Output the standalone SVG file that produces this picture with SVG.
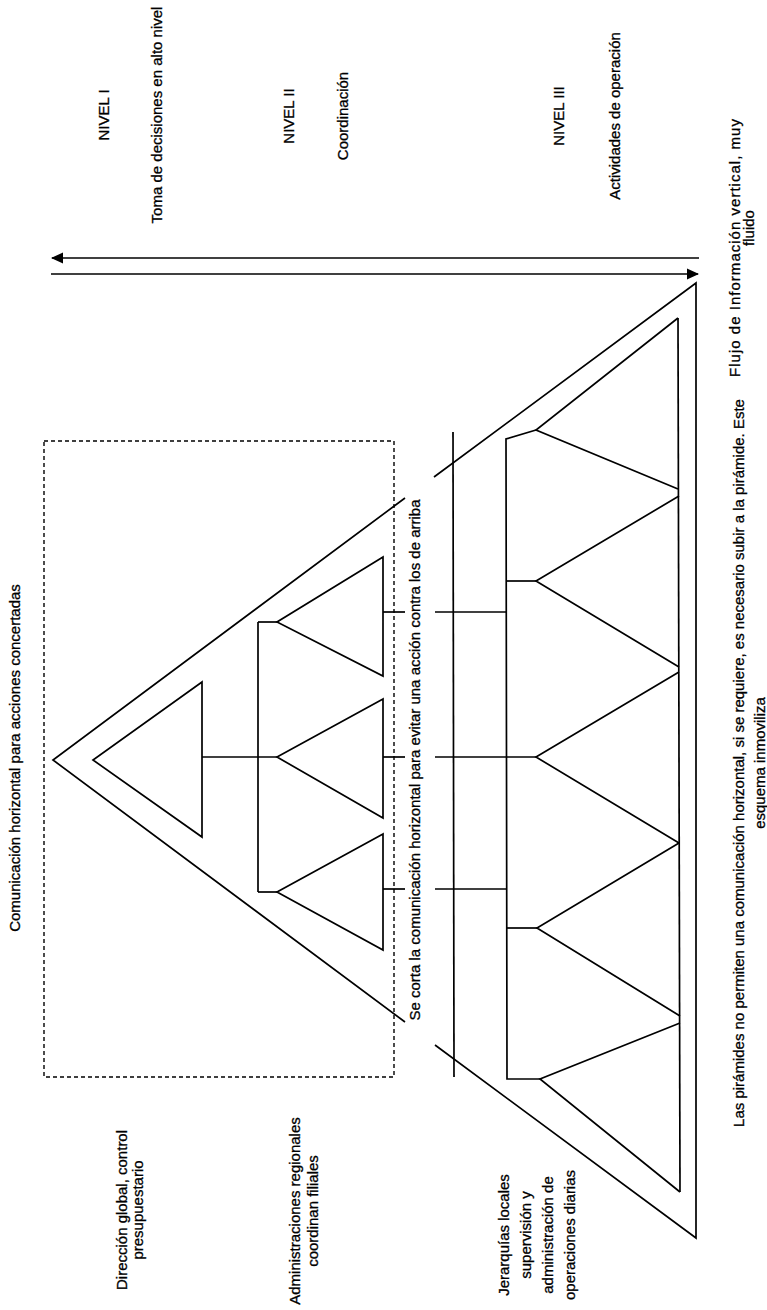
<svg xmlns="http://www.w3.org/2000/svg" width="767" height="1310" viewBox="0 0 767 1310">
<style>
.ln{fill:none;stroke:#000;stroke-width:1.7;stroke-linejoin:miter;stroke-linecap:butt}
.ds{fill:none;stroke:#000;stroke-width:1.4;stroke-dasharray:4 3}
.t{font-family:"Liberation Sans",Arial,sans-serif;font-size:15px;fill:#000;stroke:#000;stroke-width:0.3;text-anchor:middle}
</style>
<defs>
<marker id="ah" viewBox="0 0 12 12" refX="11" refY="6" markerWidth="12" markerHeight="12" markerUnits="userSpaceOnUse" orient="auto">
<path d="M0,0.5 L12,6 L0,11.5 Z" fill="#000"/>
</marker>
</defs>
<rect width="767" height="1310" fill="#fff"/>

<g id="dashed-box">
<rect class="ds" x="44" y="441" width="350" height="636"/>
</g>

<g id="flow-arrows">
<line class="ln" x1="699" y1="258" x2="52" y2="258" marker-end="url(#ah)"/>
<line class="ln" x1="51" y1="274" x2="698" y2="274" marker-end="url(#ah)"/>
</g>

<g id="nivel1-pyramid">
<path class="ln" d="M202,682 L93,760 L202,837 Z"/>
</g>

<g id="nivel2-pyramid">
<path class="ln" d="M405,498 L53,760 L405,1022"/>
<path class="ln" d="M383,557 L277,622 L383,676 Z"/>
<path class="ln" d="M383,699 L277,757 L383,818 Z"/>
<path class="ln" d="M383,834 L277,892 L383,950 Z"/>
<path class="ln" d="M258,622 L258,892"/>
</g>

<g id="nivel3-pyramid">
<path class="ln" d="M434,477 L696,283 L696,1238 L435,1045"/>
<path class="ln" d="M678,318 L680,1192"/>
<path class="ln" d="M678,318 L536,430 L678,489"/>
<path class="ln" d="M679,496 L536,581 L679,667"/>
<path class="ln" d="M679,672 L536,757 L679,843"/>
<path class="ln" d="M679,843 L537,928 L680,1016"/>
<path class="ln" d="M680,1023 L540,1079 L680,1192"/>
<path class="ln" d="M536,430 L506,439 L507,1079 L540,1079"/>
</g>

<g id="cut-line">
<path class="ln" d="M453,432 L454,1077"/>
</g>

<g id="connectors">
<path class="ln" d="M258,622 L277,622"/>
<path class="ln" d="M258,892 L277,892"/>
<path class="ln" d="M202,757 L277,757"/>
<path class="ln" d="M506,581 L536,581"/>
<path class="ln" d="M507,928 L537,928"/>
<path class="ln" d="M383,612 L405,612"/>
<path class="ln" d="M435,612 L507,612"/>
<path class="ln" d="M383,757 L405,757"/>
<path class="ln" d="M435,757 L536,757"/>
<path class="ln" d="M383,889 L405,889"/>
<path class="ln" d="M435,889 L507,889"/>
</g>

<g id="label-nivel1">
<text class="t" transform="translate(109,115) rotate(-90)">NIVEL I</text>
<text class="t" transform="translate(162,115) rotate(-90)">Toma de decisiones en alto nivel</text>
</g>
<g id="label-nivel2">
<text class="t" transform="translate(294,116) rotate(-90)">NIVEL II</text>
<text class="t" transform="translate(348,116) rotate(-90)">Coordinación</text>
</g>
<g id="label-nivel3">
<text class="t" transform="translate(564,116) rotate(-90)">NIVEL III</text>
<text class="t" transform="translate(620,116) rotate(-90)">Actividades de operación</text>
</g>
<g id="label-flujo">
<text class="t" transform="translate(740,248) rotate(-90)" textLength="258" lengthAdjust="spacing">Flujo de Información vertical, muy</text>
<text class="t" transform="translate(754,228) rotate(-90)">fluido</text>
</g>
<g id="label-comunicacion">
<text class="t" transform="translate(20,758) rotate(-90)">Comunicación horizontal para acciones concertadas</text>
</g>
<g id="label-corte">
<text class="t" transform="translate(420,760) rotate(-90)">Se corta la comunicación horizontal para evitar una acción contra los de arriba</text>
</g>
<g id="label-piramides">
<text class="t" transform="translate(744,763) rotate(-90)">Las pirámides no permiten una comunicación horizontal, si se requiere, es necesario subir a la pirámide. Este</text>
<text class="t" transform="translate(765,763) rotate(-90)">esquema inmoviliza</text>
</g>
<g id="label-direccion">
<text class="t" transform="translate(127,1210) rotate(-90)">Dirección global, control</text>
<text class="t" transform="translate(143,1210) rotate(-90)">presupuestario</text>
</g>
<g id="label-administraciones">
<text class="t" transform="translate(300,1211) rotate(-90)">Administraciones regionales</text>
<text class="t" transform="translate(318,1211) rotate(-90)">coordinan filiales</text>
</g>
<g id="label-jerarquias">
<text class="t" transform="translate(509,1235) rotate(-90)">Jerarquías locales</text>
<text class="t" transform="translate(531,1235) rotate(-90)">supervisión y</text>
<text class="t" transform="translate(553,1235) rotate(-90)">administración de</text>
<text class="t" transform="translate(575,1235) rotate(-90)">operaciones diarias</text>
</g>
</svg>
